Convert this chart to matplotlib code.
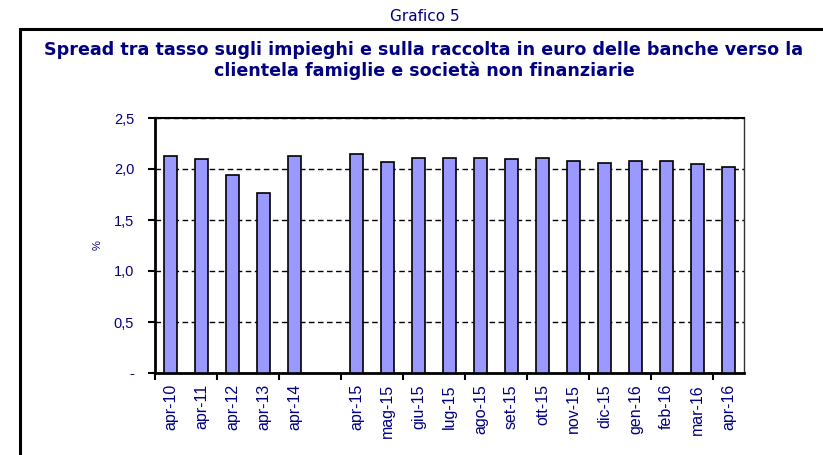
import numpy as np
import matplotlib
matplotlib.use('Agg')
import matplotlib.pyplot as plt
from matplotlib.patches import Rectangle

# Dati (spread %)
labels = ['apr-10', 'apr-11', 'apr-12', 'apr-13', 'apr-14', '',
          'apr-15', 'mag-15', 'giu-15', 'lug-15', 'ago-15', 'set-15',
          'ott-15', 'nov-15', 'dic-15', 'gen-16', 'feb-16', 'mar-16', 'apr-16']
values = [2.13, 2.10, 1.94, 1.76, 2.13, np.nan,
          2.15, 2.07, 2.11, 2.11, 2.11, 2.10,
          2.11, 2.08, 2.06, 2.08, 2.08, 2.05, 2.02]
yticks = [0, 0.5, 1.0, 1.5, 2.0, 2.5]
ytick_labels = ['-', '0,5', '1,0', '1,5', '2,0', '2,5']

navy = '#000080'
x = np.arange(len(labels))

W, H = 823, 455
fig = plt.figure(figsize=(W / 100, H / 100), dpi=100)

# cornice esterna
fig.patches.append(Rectangle((20 / W, -0.2), 1.2, 1.2 - 29 / H,
                             transform=fig.transFigure, fill=False,
                             edgecolor='black', linewidth=2.2, zorder=0))

fig.text(425 / W, 1 - 21 / H, 'Grafico 5', ha='center', va='baseline',
         fontsize=11, color=navy, family='DejaVu Sans')
fig.text(424 / W, 1 - 55 / H, 'Spread tra tasso sugli impieghi e sulla raccolta in euro delle banche verso la',
         ha='center', va='baseline', fontsize=12.6, fontweight='bold', color=navy, family='DejaVu Sans')
fig.text(424 / W, 1 - 76 / H, 'clientela famiglie e società non finanziarie',
         ha='center', va='baseline', fontsize=12.6, fontweight='bold', color=navy, family='DejaVu Sans')

ax = fig.add_axes([155 / W, 1 - 373 / H, 589 / W, 255 / H])
ax.bar(x, values, width=0.42, color='#9999FF', edgecolor='black', linewidth=1.2, zorder=3)

ax.set_xlim(-0.5, len(labels) - 0.5)
ax.set_ylim(0, 2.5)
ax.set_yticks(yticks)
ax.set_yticklabels(ytick_labels, fontsize=10.5, color=navy, family='Liberation Sans')
ax.yaxis.grid(True, linestyle=(0, (4, 2.5)), color='black', linewidth=1, zorder=1)

ax.set_xticks(x)
ax.set_xticklabels(labels, rotation=90, fontsize=11.5, color=navy, family='Liberation Sans')
ax.tick_params(axis='x', which='major', length=0, pad=8)
ax.set_xticks(np.arange(-0.5, len(labels) - 0.5, 2), minor=True)
ax.tick_params(axis='x', which='minor', length=5, width=1.5, direction='out')
ax.tick_params(axis='y', length=5, width=1.5, direction='out', pad=10)

ax.set_ylabel('%', fontsize=8, color=navy, family='Liberation Sans', labelpad=8)

ax.spines['left'].set_linewidth(2)
ax.spines['bottom'].set_linewidth(2)
ax.spines['top'].set_linewidth(1.5)
ax.spines['right'].set_linewidth(1)
ax.spines['right'].set_color('#333333')

fig.savefig('out.png', dpi=100)
